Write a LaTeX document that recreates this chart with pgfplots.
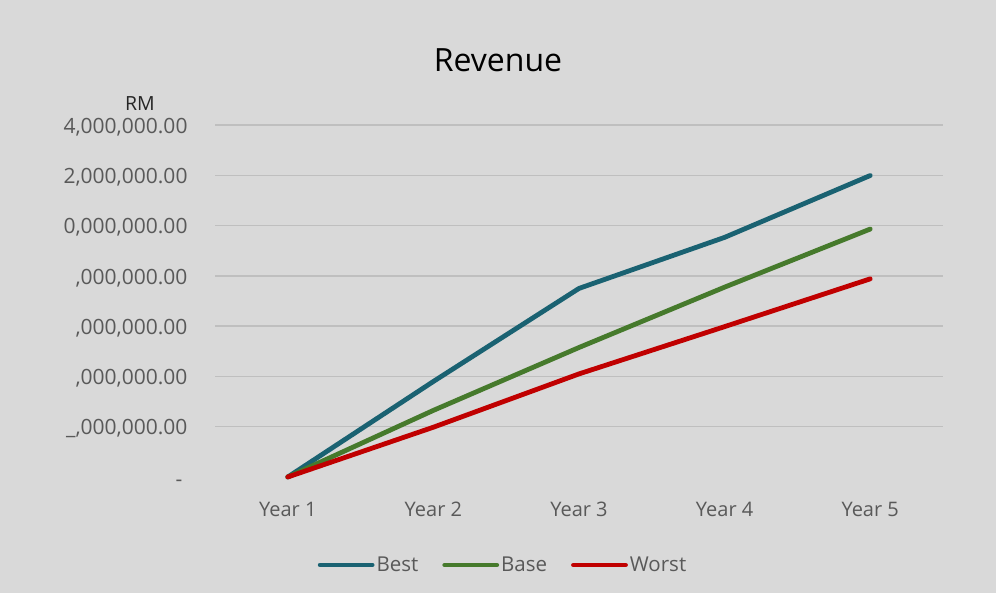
\documentclass[border=0pt]{standalone}
\usepackage{fontspec}
\setmainfont{Open Sans}
\usepackage{pgfplots}
\pgfplotsset{compat=1.18}
\definecolor{bg}{HTML}{D9D9D9}
\definecolor{gridc}{HTML}{BFBFBF}
\definecolor{txt}{HTML}{595959}
\definecolor{cbest}{HTML}{1A6272}
\definecolor{cbase}{HTML}{467A2C}
\definecolor{cworst}{HTML}{C00000}
\begin{document}
\begin{tikzpicture}[x=1bp,y=1bp]
\fill[bg] (0,0) rectangle (996,593);
\begin{axis}[
  at={(215bp,116bp)}, anchor=south west,
  width=728bp, height=352bp, scale only axis,
  xmin=-0.5, xmax=4.5, ymin=0, ymax=14000000,
  axis line style={draw=none},
  major tick length=0pt,
  xtick={0,1,2,3,4},
  xticklabels={Year 1,Year 2,Year 3,Year 4,Year 5},
  xticklabel style={text=txt, font=\fontsize{20bp}{24bp}\selectfont, yshift=-22bp},
  ytick={2000000,4000000,6000000,8000000,10000000,12000000,14000000},
  yticklabels={{\_,000,000.00},{,000,000.00},{,000,000.00},{,000,000.00},{0,000,000.00},{2,000,000.00},{4,000,000.00}},
  yticklabel style={text=txt, font=\fontsize{21bp}{25bp}\selectfont, xshift=-24bp, yshift=-2bp},
  extra y ticks={0},
  extra y tick labels={-},
  extra y tick style={grid=none, yticklabel style={xshift=-5bp, yshift=-4bp}},
  ymajorgrids,
  grid style={gridc, line width=1.5bp},
  scaled y ticks=false,
  clip=false,
  legend columns=3,
  legend style={draw=none, fill=none, at={(0.3956,-0.25)}, anchor=center,
    font=\fontsize{20.5bp}{24bp}\selectfont, text=txt,
    /tikz/every even column/.append style={column sep=22bp}},
  legend image code/.code={\draw[#1, line cap=round] (0bp,0bp) -- (52bp,0bp);},
]
\addplot[cbest, line width=4.8bp, line join=round, line cap=round] coordinates {(0,0) (1,3800000) (2,7500000) (3,9530000) (4,11990000)};
\addlegendentry{Best}
\addplot[cbase, line width=4.8bp, line join=round, line cap=round] coordinates {(0,0) (1,2650000) (2,5150000) (3,7550000) (4,9860000)};
\addlegendentry{Base}
\addplot[cworst, line width=4.8bp, line join=round, line cap=round] coordinates {(0,0) (1,1980000) (2,4100000) (3,5980000) (4,7880000)};
\addlegendentry{Worst}
\end{axis}
\node[font=\fontsize{32bp}{38bp}\selectfont, text=black] at (498,533) {Revenue};
\node[font=\fontsize{19.5bp}{23bp}\selectfont, text=black!85] at (140,489) {RM};
\end{tikzpicture}
\end{document}
